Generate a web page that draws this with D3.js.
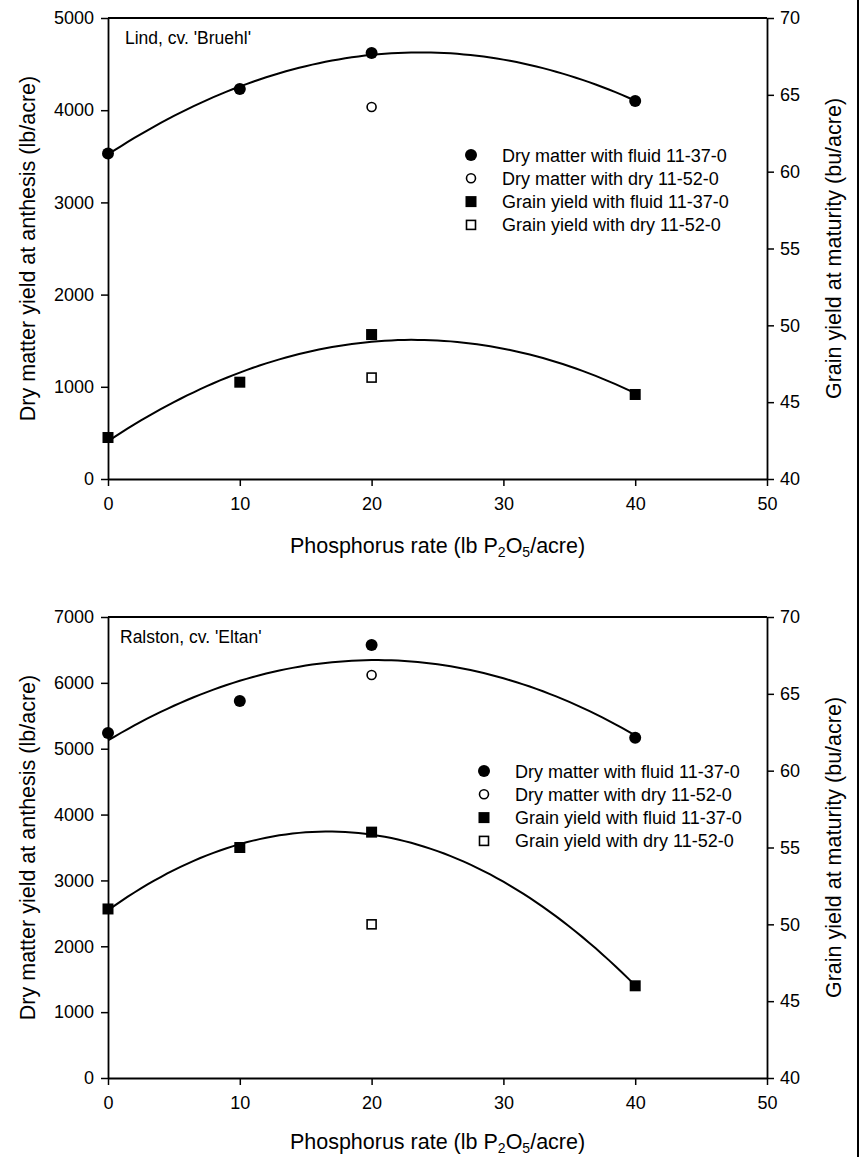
<!DOCTYPE html>
<html>
<head>
<meta charset="utf-8">
<script src="https://cdn.jsdelivr.net/npm/d3@7"></script>
<style>
  body { margin: 0; background: #fff; }
  svg { display: block; font-family: "Liberation Sans", Arial, sans-serif; }
</style>
</head>
<body>
<svg id="chart" width="861" height="1157"></svg>
<script>
// data
const rates = [0, 10, 20, 40];
const dryRates = [20];

const lindDryFluid = [3530, 4230, 4620, 4100];
const lindDryDry = [4035];
const lindGrainFluid = [42.7, 46.3, 49.4, 45.5];
const lindGrainDry = [46.6];

const ralstonDryFluid = [5240, 5725, 6575, 5165];
const ralstonDryDry = [6120];
const ralstonGrainFluid = [51, 55, 56, 46];
const ralstonGrainDry = [50];

const xTicks = [0, 10, 20, 30, 40, 50];
const lindLeftTicks = [0, 1000, 2000, 3000, 4000, 5000];
const ralstonLeftTicks = [0, 1000, 2000, 3000, 4000, 5000, 6000, 7000];
const rightTicks = [40, 45, 50, 55, 60, 65, 70];

const legendLabels = [
  "Dry matter with fluid 11-37-0",
  "Dry matter with dry 11-52-0",
  "Grain yield with fluid 11-37-0",
  "Grain yield with dry 11-52-0"
];

const svg = d3.select("#chart");

// least squares quadratic (the fitted curves in the figure)
function quadFit(xs, ys) {
  let s = [0, 0, 0, 0, 0], t = [0, 0, 0];
  xs.forEach((x, i) => {
    for (let k = 0; k < 5; k++) s[k] += Math.pow(x, k);
    for (let k = 0; k < 3; k++) t[k] += Math.pow(x, k) * ys[i];
  });
  const m = [[s[0], s[1], s[2], t[0]], [s[1], s[2], s[3], t[1]], [s[2], s[3], s[4], t[2]]];
  for (let i = 0; i < 3; i++) {
    for (let j = i + 1; j < 3; j++) {
      const f = m[j][i] / m[i][i];
      for (let k = i; k < 4; k++) m[j][k] -= f * m[i][k];
    }
  }
  const c = [0, 0, 0];
  for (let i = 2; i >= 0; i--) {
    let v = m[i][3];
    for (let k = i + 1; k < 3; k++) v -= m[i][k] * c[k];
    c[i] = v / m[i][i];
  }
  return x => c[0] + c[1] * x + c[2] * x * x;
}

function makePanel(cfg) {
  const marginLeft = 108, marginRight = 767;
  const top = cfg.top, bottom = cfg.top + 461;

  const x = d3.scaleLinear().domain([0, 50]).range([marginLeft, marginRight]);
  const yL = d3.scaleLinear().domain([0, cfg.leftTicks[cfg.leftTicks.length - 1]]).range([bottom, top]);
  const yR = d3.scaleLinear().domain([40, 70]).range([bottom, top]);

  const g = svg.append("g");

  // axes
  const styleAxis = a => {
    a.attr("font-family", null).attr("font-size", 18);
    a.select(".domain").attr("stroke-width", 1.8);
    a.selectAll(".tick line").attr("stroke-width", 1.5);
    a.selectAll("text").attr("font-size", 18).attr("fill", "#000");
  };
  g.append("g")
    .attr("transform", `translate(${marginLeft},0)`)
    .call(d3.axisLeft(yL).tickValues(cfg.leftTicks).tickFormat(d3.format("d"))
      .tickSize(7).tickPadding(7).tickSizeOuter(0))
    .call(styleAxis);
  g.append("g")
    .attr("transform", `translate(${marginRight},0)`)
    .call(d3.axisRight(yR).tickValues(rightTicks).tickSize(7).tickPadding(6).tickSizeOuter(0))
    .call(styleAxis);
  g.append("g")
    .attr("transform", `translate(0,${bottom})`)
    .call(d3.axisBottom(x).tickValues(xTicks).tickSize(7).tickPadding(11).tickSizeOuter(0))
    .call(styleAxis);
  // top frame line
  g.append("line")
    .attr("x1", marginLeft).attr("x2", marginRight)
    .attr("y1", top).attr("y2", top)
    .attr("stroke", "#000").attr("stroke-width", 1.8);

  // axis titles
  const xt = g.append("text")
    .attr("x", (marginLeft + marginRight) / 2)
    .attr("y", bottom + cfg.xTitleDy)
    .attr("text-anchor", "middle")
    .attr("font-size", 21.5);
  xt.append("tspan").text("Phosphorus rate (lb P");
  xt.append("tspan").attr("font-size", 14).attr("dy", 4).text("2");
  xt.append("tspan").attr("dy", -4).text("O");
  xt.append("tspan").attr("font-size", 14).attr("dy", 4).text("5");
  xt.append("tspan").attr("dy", -4).text("/acre)");

  g.append("text")
    .attr("transform", `translate(35,${(top + bottom) / 2}) rotate(-90)`)
    .attr("text-anchor", "middle")
    .attr("font-size", 21.5)
    .text("Dry matter yield at anthesis (lb/acre)");
  g.append("text")
    .attr("transform", `translate(841,${(top + bottom) / 2}) rotate(-90)`)
    .attr("text-anchor", "middle")
    .attr("font-size", 21.5)
    .text("Grain yield at maturity (bu/acre)");

  g.append("text")
    .attr("x", marginLeft + cfg.labelDx)
    .attr("y", top + 26)
    .attr("font-size", 17.5)
    .text(cfg.label);

  // fitted curves
  const samples = d3.range(0, 40.01, 0.5);
  const dryFit = quadFit(rates, cfg.dryFluid);
  const grainFit = quadFit(rates, cfg.grainFluid);
  g.append("path")
    .attr("d", d3.line().x(d => x(d)).y(d => yL(dryFit(d)))(samples))
    .attr("fill", "none").attr("stroke", "#000").attr("stroke-width", 2);
  g.append("path")
    .attr("d", d3.line().x(d => x(d)).y(d => yR(grainFit(d)))(samples))
    .attr("fill", "none").attr("stroke", "#000").attr("stroke-width", 2);

  // points
  g.selectAll(".dryFluid").data(rates).join("circle")
    .attr("cx", d => x(d)).attr("cy", (d, i) => yL(cfg.dryFluid[i]))
    .attr("r", 6).attr("fill", "#000");
  g.selectAll(".dryDry").data(dryRates).join("circle")
    .attr("cx", d => x(d)).attr("cy", (d, i) => yL(cfg.dryDry[i]))
    .attr("r", 4.5).attr("fill", "#fff").attr("stroke", "#000").attr("stroke-width", 1.6);
  g.selectAll(".grainFluid").data(rates).join("rect")
    .attr("x", d => x(d) - 5.5).attr("y", (d, i) => yR(cfg.grainFluid[i]) - 5.5)
    .attr("width", 11).attr("height", 11).attr("fill", "#000");
  g.selectAll(".grainDry").data(dryRates).join("rect")
    .attr("x", d => x(d) - 4.5).attr("y", (d, i) => yR(cfg.grainDry[i]) - 4.5)
    .attr("width", 9).attr("height", 9)
    .attr("fill", "#fff").attr("stroke", "#000").attr("stroke-width", 1.6);

  // legend
  const lg = g.append("g").attr("transform", `translate(${cfg.legendX},${cfg.legendY})`);
  legendLabels.forEach((lab, i) => {
    const ry = i * 23.3;
    if (i === 0) lg.append("circle").attr("cx", 0).attr("cy", ry).attr("r", 6).attr("fill", "#000");
    if (i === 1) lg.append("circle").attr("cx", 0).attr("cy", ry).attr("r", 4.5)
      .attr("fill", "#fff").attr("stroke", "#000").attr("stroke-width", 1.6);
    if (i === 2) lg.append("rect").attr("x", -5.5).attr("y", ry - 5.5).attr("width", 11).attr("height", 11).attr("fill", "#000");
    if (i === 3) lg.append("rect").attr("x", -4.5).attr("y", ry - 4.5).attr("width", 9).attr("height", 9)
      .attr("fill", "#fff").attr("stroke", "#000").attr("stroke-width", 1.6);
    lg.append("text")
      .attr("x", 31).attr("y", ry + 6.5)
      .attr("font-size", 18)
      .text(lab);
  });
}

makePanel({
  top: 18, leftTicks: lindLeftTicks, label: "Lind, cv. 'Bruehl'", labelDx: 17,
  dryFluid: lindDryFluid, dryDry: lindDryDry, grainFluid: lindGrainFluid, grainDry: lindGrainDry,
  legendX: 471, legendY: 155, xTitleDy: 74
});

makePanel({
  top: 617, leftTicks: ralstonLeftTicks, label: "Ralston, cv. 'Eltan'", labelDx: 12,
  dryFluid: ralstonDryFluid, dryDry: ralstonDryDry, grainFluid: ralstonGrainFluid, grainDry: ralstonGrainDry,
  legendX: 484, legendY: 771, xTitleDy: 71
});

// right border of the figure
svg.append("line")
  .attr("x1", 858).attr("x2", 858).attr("y1", 0).attr("y2", 1157)
  .attr("stroke", "#000").attr("stroke-width", 2);
</script>
</body>
</html>
